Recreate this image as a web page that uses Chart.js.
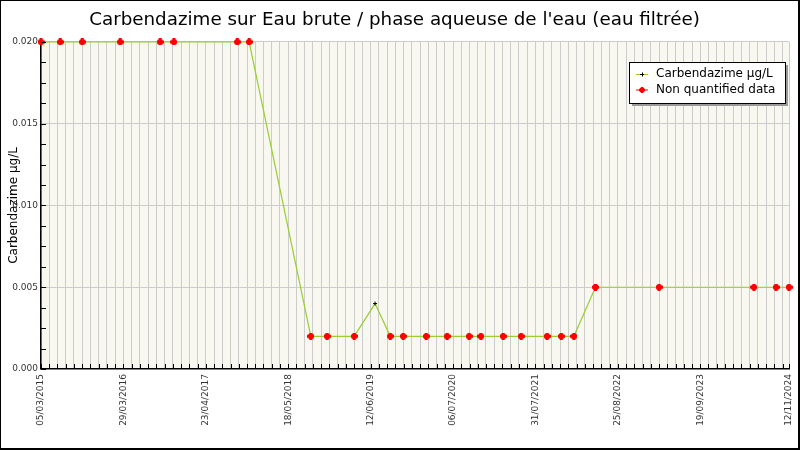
<!DOCTYPE html>
<html>
<head>
<meta charset="utf-8">
<script src="https://cdn.jsdelivr.net/npm/chart.js@4.4.1/dist/chart.umd.min.js"></script>
<style>
    body { margin: 0; background: #fff; }
    canvas { display: block; }
</style>
</head>
<body>
<canvas id="chart" width="800" height="450"></canvas>
<script>
// sampling dates and measured values (µg/L)
let sampleDates = ['05/03/2015', '04/06/2015', '16/09/2015', '14/03/2016', '19/09/2016', '23/11/2016',
    '19/09/2017', '14/11/2017', '02/09/2018', '18/11/2018', '26/03/2019', '03/07/2019', '13/09/2019',
    '13/11/2019', '01/03/2020', '08/06/2020', '20/09/2020', '15/11/2020', '28/02/2021', '24/05/2021',
    '24/09/2021', '30/11/2021', '29/01/2022', '11/05/2022', '08/03/2023', '30/05/2024', '12/09/2024',
    '12/11/2024'];
let values = [0.02, 0.02, 0.02, 0.02, 0.02, 0.02, 0.02, 0.02,
    0.002, 0.002, 0.002, 0.004, 0.002, 0.002, 0.002, 0.002, 0.002, 0.002, 0.002, 0.002, 0.002, 0.002, 0.002,
    0.005, 0.005, 0.005, 0.005, 0.005];
// false = under the quantification limit
let quantified = [false, false, false, false, false, false, false, false,
    false, false, false, true, false, false, false, false, false, false, false, false, false, false, false,
    false, false, false, false, false];
let seriesNames = ['Carbendazime µg/L', 'Non quantified data'];

let axisStart = '05/03/2015';
let axisEnd = '12/11/2024';
let minorStepDays = 39;
let labelStepDays = 390;
let yTicks = [0, 0.005, 0.01, 0.015, 0.02];
let yMinorStep = 0.00125;

const DAY = 86400000;
function parseDate(s) {
    let p = s.split('/');
    return Date.UTC(+p[2], +p[1] - 1, +p[0]);
}
let t0 = parseDate(axisStart);
let tEnd = Math.round((parseDate(axisEnd) - t0) / DAY);
function toDays(s) {
    return Math.round((parseDate(s) - t0) / DAY);
}
function fmtDate(days) {
    let d = new Date(t0 + days * DAY);
    let dd = String(d.getUTCDate()).padStart(2, '0');
    let mm = String(d.getUTCMonth() + 1).padStart(2, '0');
    return dd + '/' + mm + '/' + d.getUTCFullYear();
}

let linePoints = sampleDates.map((s, i) => ({ x: toDays(s), y: values[i] }));
let nqPoints = sampleDates.map((s, i) => ({ x: toDays(s), y: values[i] })).filter((p, i) => !quantified[i]);

function isMajorY(v) {
    return yTicks.some(t => Math.abs(t - v) < 1e-9);
}

const FONT = 'DejaVu Sans';

// thick red "plus" marker for the non quantified values
let redMark = document.createElement('canvas');
redMark.width = 7;
redMark.height = 7;
let rm = redMark.getContext('2d');
rm.fillStyle = '#ff0000';
rm.fillRect(2, 0, 3, 7);
rm.fillRect(0, 2, 7, 3);
rm.fillRect(1, 1, 5, 5);

// background, frame, inside ticks and boxed legend
let decor = {
    id: 'decor',
    beforeDraw(chart) {
        let ctx = chart.ctx, a = chart.chartArea;
        ctx.save();
        ctx.fillStyle = '#fff';
        ctx.fillRect(0, 0, chart.width, chart.height);
        ctx.fillStyle = '#f8f8f0';
        ctx.fillRect(a.left, a.top, a.right - a.left, a.bottom - a.top);
        ctx.restore();
    },
    afterDraw(chart) {
        let ctx = chart.ctx, a = chart.chartArea;
        ctx.save();
        ctx.strokeStyle = '#000';
        ctx.lineWidth = 1;
        ctx.beginPath();
        chart.scales.x.ticks.forEach(t => {
            let px = Math.round(chart.scales.x.getPixelForValue(t.value)) + 0.5;
            ctx.moveTo(px, a.bottom);
            ctx.lineTo(px, a.bottom - 5);
        });
        chart.scales.y.ticks.forEach(t => {
            let py = Math.round(chart.scales.y.getPixelForValue(t.value)) + 0.5;
            ctx.moveTo(a.left, py);
            ctx.lineTo(a.left + 5, py);
        });
        ctx.stroke();

        // legend box
        let bx = 629, by = 62, bw = 156, bh = 41;
        ctx.fillStyle = '#9a9a9a';
        ctx.fillRect(bx + 3, by + 3, bw, bh);
        ctx.fillStyle = '#fff';
        ctx.fillRect(bx, by, bw, bh);
        ctx.strokeStyle = '#000';
        ctx.strokeRect(bx + 0.5, by + 0.5, bw, bh);
        ctx.font = '12px "' + FONT + '"';
        ctx.textBaseline = 'middle';
        chart.data.datasets.forEach((ds, i) => {
            let yy = by + 12 + i * 15.5;
            ctx.strokeStyle = ds.legendLine;
            ctx.lineWidth = 1;
            ctx.beginPath();
            ctx.moveTo(bx + 7, yy + 0.5);
            ctx.lineTo(bx + 19, yy + 0.5);
            ctx.stroke();
            if (ds.pointStyle === 'cross') {
                ctx.strokeStyle = '#000';
                ctx.beginPath();
                ctx.moveTo(bx + 13 - 2, yy + 0.5);
                ctx.lineTo(bx + 13 + 2, yy + 0.5);
                ctx.moveTo(bx + 13.5, yy - 1.5);
                ctx.lineTo(bx + 13.5, yy + 2.5);
                ctx.stroke();
            } else {
                ctx.drawImage(redMark, bx + 10, Math.round(yy) - 3, 6, 6);
            }
            ctx.fillStyle = '#000';
            ctx.fillText(ds.label, bx + 27, yy);
        });

        // outer frame
        ctx.strokeStyle = '#000';
        ctx.lineWidth = 1;
        ctx.strokeRect(0.5, 0.5, chart.width - 1, chart.height - 1);
        ctx.beginPath();
        ctx.moveTo(chart.width - 1.5, 0);
        ctx.lineTo(chart.width - 1.5, chart.height);
        ctx.moveTo(0, chart.height - 1.5);
        ctx.lineTo(chart.width, chart.height - 1.5);
        ctx.stroke();
        ctx.restore();
    }
};

new Chart(document.getElementById('chart'), {
    type: 'scatter',
    data: {
        datasets: [
            {
                label: seriesNames[0],
                data: linePoints,
                showLine: true,
                borderColor: '#9acd32',
                borderWidth: 1.2,
                legendLine: '#9acd32',
                pointStyle: 'cross',
                pointRadius: 2,
                pointBorderColor: '#000',
                pointBackgroundColor: '#000',
                pointBorderWidth: 1,
                clip: false,
                order: 2
            },
            {
                label: seriesNames[1],
                data: nqPoints,
                showLine: false,
                legendLine: '#ff0000',
                pointStyle: redMark,
                pointRadius: 3,
                clip: false,
                order: 1
            }
        ]
    },
    options: {
        responsive: false,
        animation: false,
        devicePixelRatio: 1,
        layout: { padding: { left: 0, right: 11, top: 0, bottom: 0 } },
        plugins: {
            legend: { display: false },
            tooltip: { enabled: false },
            title: {
                display: true,
                text: "Carbendazime sur Eau brute / phase aqueuse de l'eau (eau filtrée)",
                color: '#000',
                font: { family: FONT, size: 18.3, weight: 'normal' },
                lineHeight: 1.2,
                padding: { top: 9, bottom: 11 }
            }
        },
        scales: {
            x: {
                type: 'linear',
                min: 0,
                max: tEnd,
                afterBuildTicks: scale => {
                    let t = [];
                    for (let d = 0; d < tEnd; d += minorStepDays) t.push({ value: d });
                    t.push({ value: tEnd });
                    scale.ticks = t;
                },
                afterFit: scale => {
                    scale.height = 81;
                    scale.paddingLeft = 0;
                    scale.paddingRight = 0;
                },
                ticks: {
                    autoSkip: false,
                    minRotation: 90,
                    maxRotation: 90,
                    padding: 5,
                    color: '#333',
                    font: { family: FONT, size: 9 },
                    callback: v => ((v % labelStepDays === 0 && v + labelStepDays <= tEnd) || v === tEnd) ? fmtDate(v) : ''
                },
                grid: { color: '#cccccc', lineWidth: 1, drawTicks: false },
                border: { color: '#000', width: 1.5 }
            },
            y: {
                min: 0,
                max: 0.02,
                afterBuildTicks: scale => {
                    let t = [];
                    for (let k = 0; k <= 16; k++) t.push({ value: k * yMinorStep });
                    scale.ticks = t;
                },
                afterFit: scale => {
                    scale.width = 41;
                    scale.paddingTop = 0;
                    scale.paddingBottom = 0;
                },
                ticks: {
                    padding: 3,
                    color: '#333',
                    font: { family: FONT, size: 9 },
                    callback: v => isMajorY(v) ? v.toFixed(3) : ''
                },
                grid: {
                    color: c => (c.tick && isMajorY(c.tick.value)) ? '#cccccc' : 'rgba(0,0,0,0)',
                    lineWidth: 1,
                    drawTicks: false
                },
                border: { color: '#000', width: 1.5 },
                title: {
                    display: true,
                    text: seriesNames[0],
                    color: '#000',
                    font: { family: FONT, size: 12 },
                    padding: { top: 7, bottom: 0 }
                }
            }
        }
    },
    plugins: [decor]
});
</script>
</body>
</html>
